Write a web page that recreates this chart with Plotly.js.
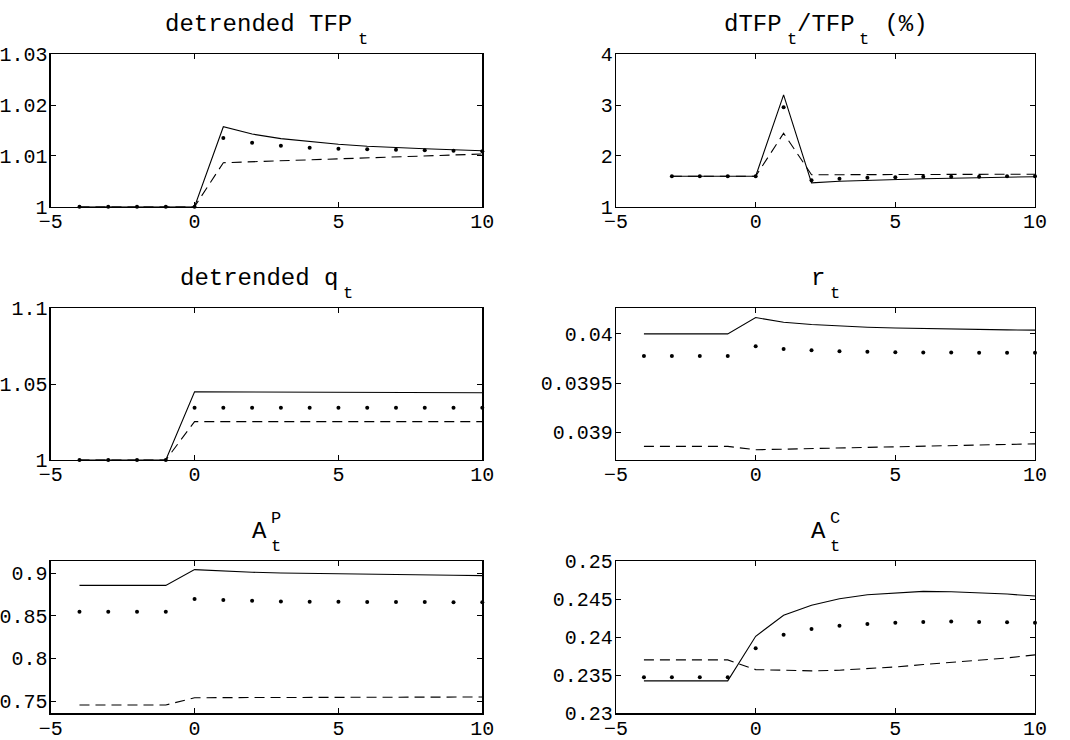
<!DOCTYPE html>
<html><head><meta charset="utf-8">
<script src="https://cdn.plot.ly/plotly-3.0.1.min.js"></script>
<style>html,body{margin:0;padding:0;background:#fff;}#chart{width:1070px;height:740px;}</style>
</head><body><div id="chart"></div>
<script>
const tt = [-4,-3,-2,-1,0,1,2,3,4,5,6,7,8,9,10];
const tg = [-3,-2,-1,0,1,2,3,4,5,6,7,8,9,10];

const tfpSolid = [1,1,1,1,1,1.01575,1.0143,1.0134,1.0128,1.0123,1.0119,1.0116,1.0114,1.0112,1.0110];
const tfpDots  = [1,1,1,1,1,1.0135,1.0126,1.0120,1.0116,1.0114,1.0113,1.0112,1.0111,1.0110,1.0109];
const tfpDash  = [1,1,1,1,1,1.00866,1.00885,1.00905,1.00925,1.00945,1.00965,1.00985,1.01005,1.0102,1.01037];

const gSolid = [1.6,1.6,1.6,1.6,3.2,1.47,1.50,1.52,1.535,1.55,1.56,1.57,1.58,1.59];
const gDots  = [1.6,1.6,1.6,1.6,2.96,1.52,1.55,1.57,1.58,1.59,1.59,1.59,1.60,1.60];
const gDash  = [1.6,1.6,1.6,1.6,2.445,1.63,1.63,1.63,1.635,1.635,1.635,1.64,1.64,1.64];

const qSolid = [1,1,1,1,1.045,1.0449,1.0448,1.0447,1.0446,1.0446,1.0445,1.0445,1.0444,1.0444,1.0443];
const qDots  = [1,1,1,1,1.0345,1.0345,1.0345,1.0345,1.0345,1.0345,1.0345,1.0345,1.0345,1.0345,1.0345];
const qDash  = [1,1,1,1,1.0253,1.0253,1.0253,1.0253,1.0253,1.0253,1.0253,1.0253,1.0253,1.0253,1.0253];

const rSolid = [0.04,0.04,0.04,0.04,0.040166,0.040119,0.040095,0.040078,0.040068,0.04006,0.040054,0.040048,0.040044,0.040041,0.040038];
const rDots  = [0.039777,0.039777,0.039777,0.039777,0.039875,0.039848,0.039835,0.039825,0.039818,0.039815,0.039812,0.039811,0.03981,0.039809,0.039808];
const rDash  = [0.038858,0.038858,0.038858,0.038858,0.038824,0.03883,0.038836,0.038842,0.03885,0.038858,0.038864,0.038869,0.038874,0.038879,0.038884];

const apSolid = [0.8858,0.8858,0.8858,0.8858,0.9043,0.9024,0.9012,0.9004,0.8998,0.8993,0.8988,0.8984,0.8980,0.8976,0.8972];
const apDots  = [0.8547,0.8547,0.8547,0.8547,0.8697,0.8685,0.8677,0.8669,0.8667,0.8665,0.8664,0.8663,0.8662,0.8661,0.8661];
const apDash  = [0.7453,0.7453,0.7453,0.7453,0.7539,0.7541,0.7542,0.7543,0.7543,0.7544,0.7544,0.7545,0.7546,0.7546,0.7547];

const acSolid = [0.23426,0.23426,0.23426,0.23426,0.24011,0.24287,0.24418,0.24505,0.24557,0.24583,0.24601,0.24597,0.24583,0.24566,0.2454];
const acDots  = [0.23474,0.23474,0.23474,0.23474,0.23855,0.24033,0.24107,0.24151,0.24173,0.2419,0.24199,0.24204,0.24199,0.24195,0.2419];
const acDash  = [0.23701,0.23701,0.23701,0.23701,0.23574,0.23561,0.23557,0.23566,0.23583,0.23609,0.2364,0.23666,0.23697,0.23727,0.23767];

// title pieces: [text, role] with role "m" main, "b" subscript, "p" superscript (stacked over next subscript)
const titles = [
  [["detrended TFP","m"],["t","b"]],
  [["dTFP","m"],["t","b"],["/TFP","m"],["t","b"],[" (%)","m"]],
  [["detrended q","m"],["t","b"]],
  [["r","m"],["t","b"]],
  [["A","m"],["P","p"],["t","b"]],
  [["A","m"],["C","p"],["t","b"]]
];

const xTicks = [-5,0,5,10];
const yTickVals = [
  [1,1.01,1.02,1.03],
  [1,2,3,4],
  [1,1.05,1.1],
  [0.039,0.0395,0.04],
  [0.75,0.8,0.85,0.9],
  [0.23,0.235,0.24,0.245,0.25]
];
const yTickText = [
  ["1","1.01","1.02","1.03"],
  ["1","2","3","4"],
  ["1","1.05","1.1"],
  ["0.039","0.0395","0.04"],
  ["0.75","0.8","0.85","0.9"],
  ["0.23","0.235","0.24","0.245","0.25"]
];
const yRanges = [[1,1.03],[1,4],[1,1.1],[0.03872,0.04026],[0.7356,0.9144],[0.23,0.25]];

const panels = [
  {x: tt, s: tfpSolid, d: tfpDots, a: tfpDash},
  {x: tg, s: gSolid, d: gDots, a: gDash},
  {x: tt, s: qSolid, d: qDots, a: qDash},
  {x: tt, s: rSolid, d: rDots, a: rDash},
  {x: tt, s: apSolid, d: apDots, a: apDash},
  {x: tt, s: acSolid, d: acDots, a: acDash}
];

const W = 1070, H = 740;
const xDom = [[50.7/W, 482.3/W], [616/W, 1035/W]];
const yDom = [[1-206.7/H, 1-54.3/H], [1-460/H, 1-308.3/H], [1-713.3/H, 1-561/H]];
const FONT = "Liberation Mono, Courier New, monospace";
const FS_MAIN = 24, FS_SMALL = 17, ADV = 0.6, SUB_GAP = 5;
// vertical shift (px above plot top) of the centre of each kind of title piece
const VSHIFT = {m: 30, b: 15, p: 43};

const traces = [];
const layout = {
  width: W, height: H, margin: {l:0, r:0, t:0, b:0},
  paper_bgcolor: "#fff", plot_bgcolor: "#fff", showlegend: false,
  font: {family: FONT, color: "#000", size: 20},
  annotations: []
};

function addTitle(pieces, cx, ytop) {
  const items = [];
  let pos = 0;
  for (let k = 0; k < pieces.length; k++) {
    const [txt, role] = pieces[k];
    const fs = role === "m" ? FS_MAIN : FS_SMALL;
    const prev = k > 0 ? pieces[k-1][1] : null;
    if (role !== "m" && prev === "m") pos += SUB_GAP;
    const w = txt.length * fs * ADV;
    items.push({txt, role, fs, x: pos, w});
    if (role === "p") continue; // next piece shares the same x
    pos += w;
  }
  const total = pos;
  items.forEach(it => {
    layout.annotations.push({
      xref: "paper", yref: "paper", x: cx, y: ytop,
      xanchor: "left", yanchor: "middle",
      xshift: it.x - total / 2, yshift: VSHIFT[it.role],
      showarrow: false, text: it.txt.replace(/ /g, "\u00a0"),
      borderpad: 0, borderwidth: 0,
      font: {family: FONT, size: it.fs, color: "#000"}
    });
  });
}

panels.forEach((p, i) => {
  const n = i + 1;
  const xa = n === 1 ? "x" : "x" + n;
  const ya = n === 1 ? "y" : "y" + n;
  const col = i % 2, row = Math.floor(i / 2);
  traces.push({x: p.x, y: p.s, xaxis: xa, yaxis: ya, mode: "lines", line: {color: "#000", width: 1.1}, hoverinfo: "skip"});
  traces.push({x: p.x, y: p.a, xaxis: xa, yaxis: ya, mode: "lines", line: {color: "#000", width: 1.1, dash: "10px,6px"}, hoverinfo: "skip"});
  traces.push({x: p.x, y: p.d, xaxis: xa, yaxis: ya, mode: "markers", marker: {color: "#000", size: 4}, cliponaxis: false, hoverinfo: "skip"});
  const axCommon = {showline: true, mirror: "ticks", linecolor: "#000", linewidth: 1.3, ticks: "inside", ticklen: 5, tickcolor: "#000", showgrid: false, zeroline: false, tickfont: {family: FONT, size: 20, color: "#000"}, fixedrange: true};
  layout["xaxis" + (n === 1 ? "" : n)] = Object.assign({}, axCommon, {domain: xDom[col], anchor: ya, range: [-5, 10], tickmode: "array", tickvals: xTicks, ticktext: xTicks.map(v => v < 0 ? "\u2212" + Math.abs(v) : String(v)), ticklabelstandoff: -4});
  layout["yaxis" + (n === 1 ? "" : n)] = Object.assign({}, axCommon, {domain: yDom[row], anchor: xa, range: yRanges[i], tickmode: "array", tickvals: yTickVals[i], ticktext: yTickText[i], ticklabelstandoff: -2});
  const cx = (xDom[col][0] + xDom[col][1]) / 2;
  addTitle(titles[i], cx, yDom[row][1]);
});

Plotly.newPlot("chart", traces, layout, {staticPlot: true});
</script>
</body></html>
